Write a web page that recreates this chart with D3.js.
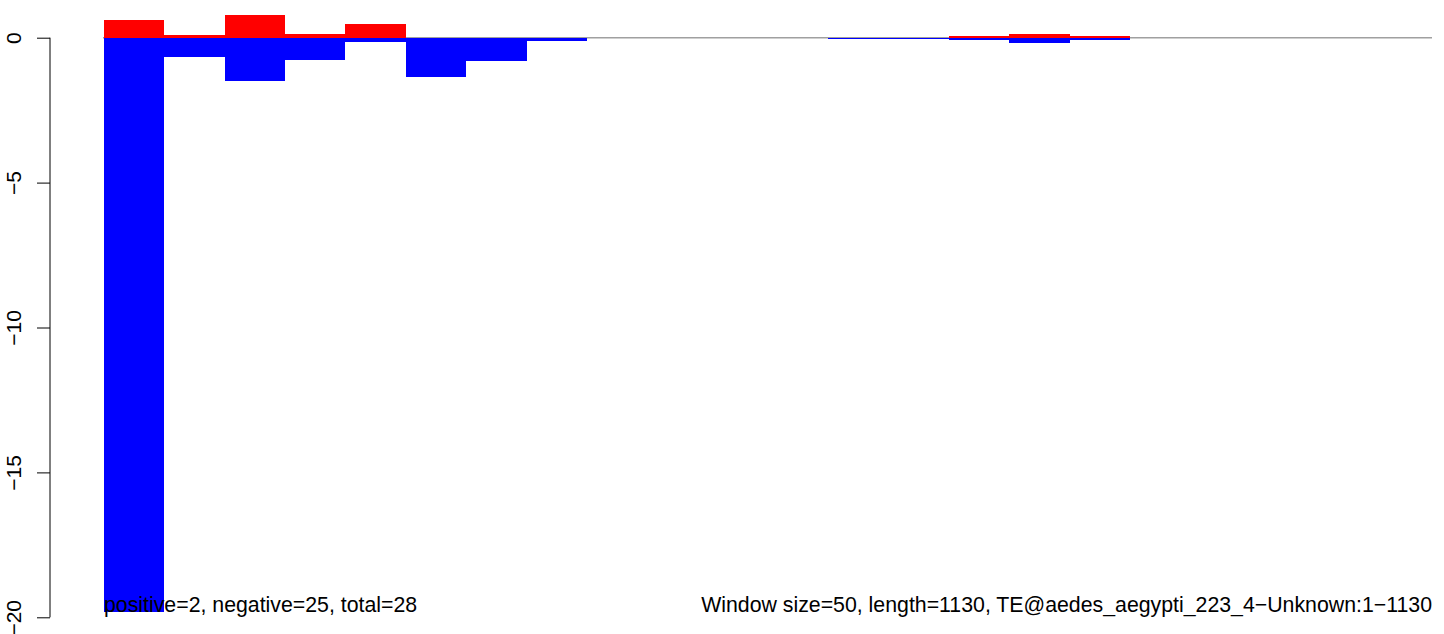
<!DOCTYPE html>
<html>
<head>
<meta charset="utf-8">
<script src="https://cdn.jsdelivr.net/npm/d3@7"></script>
<style>
  html, body { margin: 0; padding: 0; background: #fff; }
  svg { display: block; font-family: "Liberation Sans", Arial, sans-serif; }
</style>
</head>
<body>
<svg id="chart" width="1444" height="634"></svg>
<script>
// Window index (window size = 50 bp)
const windows = d3.range(22);
// Positive-strand counts per window (red, up)
const positive = [0.61, 0.09, 0.78, 0.14, 0.47, 0, 0, 0, 0, 0, 0, 0, 0, 0, 0.06, 0.13, 0.06, 0, 0, 0, 0, 0];
// Negative-strand counts per window (blue, down)
const negative = [-19.8, -0.67, -1.49, -0.77, -0.15, -1.35, -0.80, -0.11, 0, 0, 0, 0, -0.05, -0.05, -0.07, -0.17, -0.07, 0, 0, 0, 0, 0];
const yTicks = [0, -5, -10, -15, -20];
const leftNote = "positive=2, negative=25, total=28";
const rightNote = "Window size=50, length=1130, TE@aedes_aegypti_223_4\u2212Unknown:1\u22121130";

const svg = d3.select("#chart");
const x = d3.scaleLinear().domain([0, 22]).range([104, 1432]);
const y = d3.scaleLinear().domain([-20, 0]).range([617.3, 37.7]);

// zero reference line
svg.append("line")
  .attr("x1", x(0) - 1).attr("x2", x(22))
  .attr("y1", y(0)).attr("y2", y(0))
  .attr("stroke", "#a0a0a0").attr("stroke-width", 1.4);

const bars = svg.append("g").attr("shape-rendering", "crispEdges");
bars.selectAll("rect.pos").data(windows.filter(i => positive[i] > 0)).join("rect")
  .attr("class", "pos")
  .attr("x", i => x(i)).attr("width", i => x(i + 1) - x(i))
  .attr("y", i => y(positive[i])).attr("height", i => y(0) - y(positive[i]))
  .attr("fill", "#ff0000");
bars.selectAll("rect.neg").data(windows.filter(i => negative[i] < 0)).join("rect")
  .attr("class", "neg")
  .attr("x", i => x(i)).attr("width", i => x(i + 1) - x(i))
  .attr("y", y(0)).attr("height", i => y(negative[i]) - y(0))
  .attr("fill", "#0000ff");

// y axis
const axis = d3.axisLeft(y).tickValues(yTicks).tickSize(13).tickPadding(16)
  .tickFormat(d => d < 0 ? "\u2212" + Math.abs(d) : String(d));
const ag = svg.append("g").attr("transform", "translate(50,0)").call(axis);
ag.select(".domain").attr("d", `M0,${y(-20)}V${y(0)}`).attr("stroke", "#000");
ag.selectAll(".tick line").attr("stroke", "#000");
ag.selectAll(".tick text")
  .attr("font-size", 21).attr("fill", "#000")
  .attr("text-anchor", "middle")
  .attr("x", 0).attr("dy", 0)
  .attr("transform", "translate(-29.5,0) rotate(-90)");
ag.attr("font-family", null);

// notes
svg.append("text").attr("x", 104).attr("y", 612)
  .attr("font-size", 21.3).attr("fill", "#000").text(leftNote);
svg.append("text").attr("x", 1432).attr("y", 612)
  .attr("font-size", 21.3).attr("fill", "#000").attr("text-anchor", "end").text(rightNote);
</script>
</body>
</html>
